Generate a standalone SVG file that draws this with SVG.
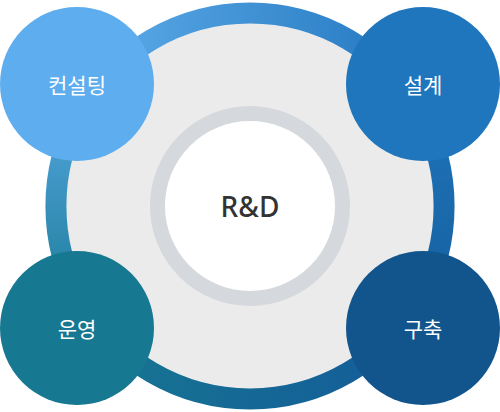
<svg xmlns="http://www.w3.org/2000/svg" width="500" height="412" viewBox="0 0 500 412">
<defs>
<linearGradient id="gTop" gradientUnits="userSpaceOnUse" x1="60" y1="0" x2="440" y2="0"><stop offset="0" stop-color="#62b0ec"/><stop offset="1" stop-color="#1f74bd"/></linearGradient>
<linearGradient id="gRight" gradientUnits="userSpaceOnUse" x1="0" y1="80" x2="0" y2="330"><stop offset="0" stop-color="#2076bd"/><stop offset="1" stop-color="#145e9c"/></linearGradient>
<linearGradient id="gBottom" gradientUnits="userSpaceOnUse" x1="60" y1="0" x2="440" y2="0"><stop offset="0" stop-color="#177891"/><stop offset="1" stop-color="#13599a"/></linearGradient>
<linearGradient id="gLeft" gradientUnits="userSpaceOnUse" x1="0" y1="80" x2="0" y2="330"><stop offset="0" stop-color="#5aaae6"/><stop offset="1" stop-color="#177891"/></linearGradient>
<style>
.seg{fill:none;stroke-width:21}
.lbl{fill:#ffffff;font-family:"Noto Sans CJK KR","Noto Sans",sans-serif;font-size:21px;text-anchor:middle;dominant-baseline:central}
</style>
</defs>
<circle cx="250" cy="206" r="190" fill="#ebebeb"/>
<g id="connectors">
<path class="seg" stroke="url(#gTop)" d="M 80 112 A 195.5 195.5 0 0 1 420 112"/>
<path class="seg" stroke="url(#gRight)" d="M 420 112 A 195.5 195.5 0 0 1 420 300"/>
<path class="seg" stroke="url(#gBottom)" d="M 420 300 A 195.5 195.5 0 0 1 80 300"/>
<path class="seg" stroke="url(#gLeft)" d="M 80 300 A 195.5 195.5 0 0 1 80 112"/>
</g>
<g id="rnd">
<circle cx="250" cy="206" r="92.5" fill="#ffffff" stroke="#d5d8dc" stroke-width="15"/>
<text x="250" y="206" fill="#333333" font-family="Noto Sans, sans-serif" font-size="28" font-weight="500" text-anchor="middle" dominant-baseline="central">R&amp;D</text>
</g>
<g id="consulting">
<circle cx="77" cy="84" r="77" fill="#5eadee"/>
<text class="lbl" x="77" y="84">컨설팅</text>
</g>
<g id="design">
<circle cx="423" cy="84" r="77" fill="#2076bd"/>
<text class="lbl" x="423" y="84">설계</text>
</g>
<g id="operation">
<circle cx="77" cy="328" r="77" fill="#177891"/>
<text class="lbl" x="77" y="328">운영</text>
</g>
<g id="build">
<circle cx="423" cy="328" r="77" fill="#12558d"/>
<text class="lbl" x="423" y="328">구축</text>
</g>
</svg>
